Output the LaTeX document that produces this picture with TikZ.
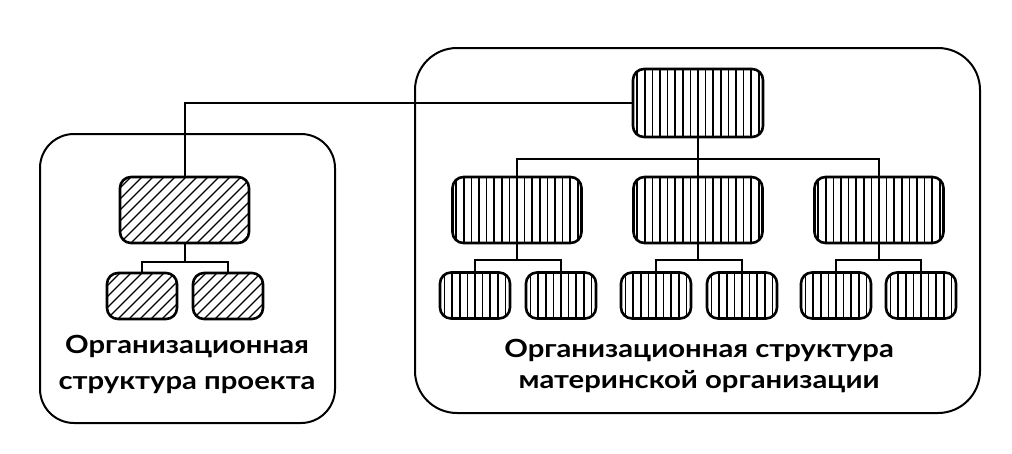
\documentclass[tikz,border=0pt]{standalone}
\usepackage{fontspec}
\setmainfont{Lato}
\newfontfamily\lblfont[FakeStretch=1.17]{Lato}
\begin{document}
\begin{tikzpicture}[x=1pt,y=-1pt,
  outerbox/.style={draw, line width=2pt, rounded corners=#1, inner sep=0pt},
  outerbox/.default=40pt,
  vbox/.style={draw, line width=2.6pt, rounded corners=11pt, inner sep=0pt,
    path picture={\foreach \k in {-12,...,12}{\draw[line width=1.7pt]
      ([xshift=\k*7.6pt]path picture bounding box.north) --
      ([xshift=\k*7.6pt]path picture bounding box.south);}}},
  dbox/.style={draw, line width=2.6pt, rounded corners=11pt, inner sep=0pt,
    path picture={\foreach \k in {-12,...,16}{\draw[line width=1.3pt]
      ([xshift=\k*11pt]path picture bounding box.south west) -- ++(120pt,120pt);}}},
  big/.style={minimum width=129pt, minimum height=66pt},
  small/.style={minimum width=70pt, minimum height=46pt},
  conn/.style={line width=2pt},
  lbl/.style={font=\lblfont\bfseries\fontsize{25}{29}\selectfont, anchor=base, inner sep=0pt}
]
\useasboundingbox (0,0) rectangle (1012,453);
% outer boxes
\node (lbox) [outerbox=34pt, minimum width=295pt, minimum height=289pt] at (187.5,278.5) {};
\node (rbox) [outerbox=42pt, minimum width=565pt, minimum height=365pt] at (697.5,230.5) {};
% left structure
\node (lb) [dbox, big] at (184.5,210) {};
\node (ls1) [dbox, small] at (142,296) {};
\node (ls2) [dbox, small] at (228,296) {};
% right structure
\node (top) [vbox, minimum width=130pt, minimum height=68pt] at (698,103) {};
\node (m1) [vbox, big] at (517,210) {};
\node (m2) [vbox, big] at (698,210) {};
\node (m3) [vbox, big] at (879,210) {};
\node (s11) [vbox, small] at (475,295.5) {};
\node (s12) [vbox, small] at (561,295.5) {};
\node (s21) [vbox, small] at (656,295.5) {};
\node (s22) [vbox, small] at (742,295.5) {};
\node (s31) [vbox, small] at (836,295.5) {};
\node (s32) [vbox, small] at (921,295.5) {};
% bus coordinates
\coordinate (bus) at (698,159);
\coordinate (lsub) at (184.5,262);
\coordinate (sub) at (0,260);
% connectors
\draw[conn] (lb.north) |- (top.west);
\draw[conn] (lb.south) -- (lsub);
\draw[conn] (ls1.north) |- (lsub) -| (ls2.north);
\draw[conn] (top.south) -- (m2.north);
\draw[conn] (m1.north) |- (bus) -| (m3.north);
\draw[conn] (m1.south) -- (m1.south |- sub);
\draw[conn] (s11.north) |- (m1.south |- sub) -| (s12.north);
\draw[conn] (m2.south) -- (m2.south |- sub);
\draw[conn] (s21.north) |- (m2.south |- sub) -| (s22.north);
\draw[conn] (m3.south) -- (m3.south |- sub);
\draw[conn] (s31.north) |- (m3.south |- sub) -| (s32.north);
% labels
\node (lt1) [lbl] at (187,353) {Организационная};
\node (lt2) [lbl] at (187,389) {структура проекта};
\node (rt1) [lbl] at (699,357) {Организационная структура};
\node (rt2) [lbl] at (699,388) {материнской организации};
\end{tikzpicture}
\end{document}
